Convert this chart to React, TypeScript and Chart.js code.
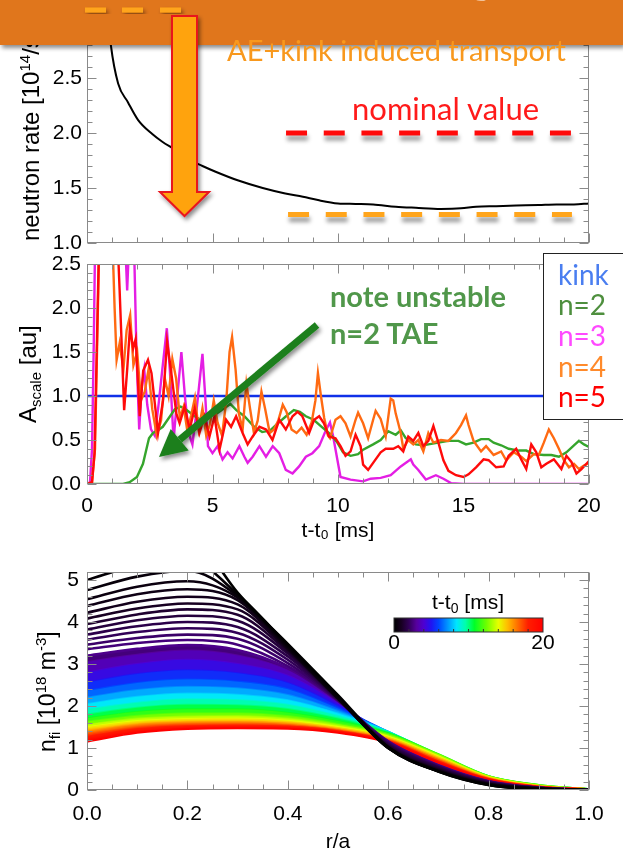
import React, { useEffect, useRef } from 'react';
import { Chart, registerables } from 'chart.js';

Chart.register(...registerables);

// ---------------- Panel 1: neutron rate ----------------
const neutronRate: [number, number][] = [
  [0.7, 3.4], [0.95, 2.8], [1.24, 2.45], [1.63, 2.28], [2.03, 2.12], [2.6, 1.99], [3.0, 1.92],
  [3.5, 1.85], [4.14, 1.75], [4.6, 1.7], [5.1, 1.65], [6.0, 1.57], [7.0, 1.5], [7.9, 1.45],
  [8.6, 1.42], [9.2, 1.39], [10.0, 1.36], [10.7, 1.355], [11.4, 1.35], [12.3, 1.33], [13.1, 1.32],
  [14.1, 1.31], [14.9, 1.315], [15.5, 1.33], [16.3, 1.335], [17.1, 1.34], [18.0, 1.345],
  [18.7, 1.35], [19.4, 1.35], [20.0, 1.36],
];
const nominalLevel = 2.0;
const nominalSpan = [7.93, 19.28];
const reducedLevel = 1.26;
const reducedSpan = [8.01, 19.32];
const neutronYTicks = [1.0, 1.5, 2.0, 2.5, 3.0];

// ---------------- Panel 2: mode amplitudes ----------------
const seriesLabels = ['kink', 'n=2', 'n=3', 'n=4', 'n=5'];
const kinkAmp: [number, number][] = [[0, 1.0], [20, 1.0]];
const n2Amp: [number, number][] = [
  [0, 0], [1.44, 0], [1.7, 0.02], [1.99, 0.08], [2.23, 0.23], [2.47, 0.52], [2.63, 0.58], [2.83, 0.61],
  [3.02, 0.65], [3.26, 0.75], [3.5, 0.85], [3.73, 0.88], [3.97, 0.84], [4.29, 0.77], [4.53, 0.73],
  [4.76, 0.77], [5.16, 0.8], [5.47, 0.86], [5.71, 0.91], [5.95, 0.84], [6.27, 0.77], [6.66, 0.65],
  [6.98, 0.59], [7.3, 0.61], [7.6, 0.69], [7.93, 0.77], [8.24, 0.84], [8.48, 0.82], [8.72, 0.77],
  [9.03, 0.73], [9.35, 0.65], [9.68, 0.57], [9.95, 0.48], [10.2, 0.36], [10.5, 0.32], [10.8, 0.34],
  [11.0, 0.39], [11.4, 0.45], [11.7, 0.5], [12.0, 0.6], [12.3, 0.56], [12.5, 0.61], [12.7, 0.52],
  [13.1, 0.45], [13.4, 0.44], [13.6, 0.45], [14.0, 0.47], [14.4, 0.49], [14.8, 0.49], [15.1, 0.45],
  [15.4, 0.47], [15.7, 0.51], [16.0, 0.51], [16.2, 0.47], [16.5, 0.44], [16.8, 0.4], [17.2, 0.38],
  [17.5, 0.38], [17.8, 0.34], [18.2, 0.33], [18.5, 0.33], [18.8, 0.31], [19.1, 0.36], [19.4, 0.44],
  [19.6, 0.49], [19.8, 0.45], [20.0, 0.42],
];
const n3Amp: [number, number][] = [
  [0, 0], [0.12, 0.02], [0.2, 0.4], [0.27, 1.6], [0.33, 2.9], [1.5, 2.9], [1.6, 2.2], [1.7, 2.9],
  [1.86, 2.9], [1.97, 1.5], [2.08, 0.62], [2.18, 1.1], [2.28, 1.3], [2.4, 0.9], [2.55, 0.62],
  [2.7, 0.55], [2.85, 0.9], [3.0, 1.3], [3.18, 1.77], [3.3, 1.3], [3.45, 0.5], [3.6, 1.0], [3.76, 1.5],
  [3.9, 1.0], [4.05, 0.58], [4.2, 0.45], [4.35, 0.8], [4.6, 1.48], [4.72, 0.95], [4.82, 0.43],
  [5.0, 0.35], [5.2, 0.43], [5.4, 0.28], [5.6, 0.36], [5.8, 0.29], [6.07, 0.43], [6.27, 0.31],
  [6.4, 0.24], [6.6, 0.31], [6.87, 0.43], [7.13, 0.31], [7.4, 0.43], [7.66, 0.35], [7.92, 0.16],
  [8.19, 0.12], [8.45, 0.2], [8.72, 0.31], [8.98, 0.35], [9.25, 0.43], [9.5, 0.6], [9.68, 0.7],
  [9.8, 0.55], [10.1, 0.08], [10.5, 0.05], [11.0, 0.03], [11.3, 0.06], [11.7, 0.07], [12.1, 0.1],
  [12.5, 0.2], [12.9, 0.28], [13.0, 0.22], [13.2, 0.16], [13.5, 0.05], [13.9, 0.1], [14.2, 0.06],
  [14.5, 0.01], [15.0, 0], [20.0, 0],
];
const n4Amp: [number, number][] = [
  [0, 0], [0.2, 0.02], [0.32, 0.4], [0.42, 1.8], [0.5, 2.9], [1.0, 2.9], [1.1, 2.0], [1.18, 1.41],
  [1.3, 1.6], [1.45, 1.3], [1.58, 1.75], [1.72, 1.92], [1.85, 1.35], [2.0, 1.5], [2.15, 0.95],
  [2.3, 1.05], [2.45, 1.3], [2.6, 0.85], [2.78, 0.55], [2.95, 0.72], [3.1, 1.2], [3.25, 1.0],
  [3.4, 1.42], [3.55, 1.2], [3.7, 0.75], [3.85, 0.88], [4.0, 0.6], [4.15, 0.78], [4.3, 0.98],
  [4.45, 0.62], [4.6, 0.86], [4.75, 0.55], [4.9, 0.68], [5.05, 0.95], [5.2, 0.7], [5.38, 0.55],
  [5.55, 0.95], [5.68, 1.5], [5.78, 1.67], [5.92, 1.3], [6.05, 0.8], [6.2, 0.62], [6.35, 1.14],
  [6.5, 0.85], [6.65, 0.58], [6.8, 0.72], [6.95, 1.05], [7.1, 0.85], [7.28, 0.58], [7.45, 0.62],
  [7.62, 0.72], [7.8, 0.9], [7.95, 0.82], [8.15, 0.62], [8.35, 0.58], [8.55, 0.64], [8.75, 0.56],
  [8.95, 0.7], [9.1, 0.95], [9.2, 1.26], [9.32, 1.0], [9.45, 0.75], [9.6, 0.55], [9.68, 0.52],
  [9.9, 0.73], [10.1, 0.77], [10.3, 0.69], [10.5, 0.54], [10.7, 0.73], [10.8, 0.81], [11.0, 0.69],
  [11.2, 0.52], [11.4, 0.73], [11.5, 0.83], [11.7, 0.74], [11.9, 0.54], [12.1, 0.97], [12.2, 0.95],
  [12.3, 0.8], [12.5, 0.58], [12.6, 0.4], [12.8, 0.5], [13.0, 0.45], [13.2, 0.5], [13.4, 0.37],
  [13.6, 0.58], [13.8, 0.47], [14.1, 0.5], [14.4, 0.49], [14.7, 0.58], [14.9, 0.67], [15.1, 0.78],
  [15.2, 0.67], [15.4, 0.49], [15.7, 0.37], [15.9, 0.43], [16.2, 0.33], [16.5, 0.37], [16.7, 0.27],
  [17.0, 0.36], [17.3, 0.31], [17.5, 0.26], [17.8, 0.34], [18.0, 0.33], [18.2, 0.47], [18.4, 0.62],
  [18.6, 0.52], [18.8, 0.4], [19.0, 0.27], [19.2, 0.19], [19.4, 0.23], [19.6, 0.17], [19.8, 0.21],
  [20.0, 0.24],
];
const n5Amp: [number, number][] = [
  [0, 0], [0.2, 0.02], [0.3, 0.35], [0.38, 1.4], [0.47, 2.6], [0.6, 2.9], [1.2, 2.9], [1.3, 2.2],
  [1.48, 0.84], [1.6, 1.3], [1.71, 1.77], [1.84, 1.54], [1.94, 1.65], [2.1, 0.77], [2.24, 1.29],
  [2.43, 1.41], [2.57, 1.26], [2.83, 0.58], [3.03, 0.95], [3.19, 1.62], [3.36, 1.26], [3.56, 0.8],
  [3.69, 0.69], [3.89, 0.88], [4.09, 0.62], [4.29, 0.86], [4.48, 0.58], [4.68, 0.77], [4.88, 0.54],
  [5.08, 0.77], [5.28, 0.39], [5.54, 0.73], [5.74, 0.65], [5.94, 0.77], [6.2, 0.58], [6.4, 0.45],
  [6.6, 0.54], [6.87, 0.65], [7.13, 0.62], [7.39, 0.5], [7.66, 0.73], [7.92, 0.62], [8.19, 0.77],
  [8.39, 0.82], [8.58, 0.77], [8.85, 0.58], [9.05, 0.73], [9.25, 0.77], [9.44, 0.69], [9.64, 0.54],
  [9.9, 0.52], [10.1, 0.43], [10.3, 0.32], [10.5, 0.37], [10.7, 0.56], [10.9, 0.43], [11.0, 0.22],
  [11.2, 0.16], [11.4, 0.24], [11.7, 0.36], [11.9, 0.4], [12.2, 0.4], [12.4, 0.43], [12.6, 0.37],
  [12.8, 0.54], [13.0, 0.49], [13.2, 0.58], [13.4, 0.43], [13.6, 0.49], [13.8, 0.66], [14.0, 0.47],
  [14.2, 0.27], [14.4, 0.15], [14.7, 0.1], [15.0, 0.08], [15.2, 0.11], [15.5, 0.19], [15.8, 0.28],
  [16.0, 0.27], [16.3, 0.19], [16.6, 0.2], [16.8, 0.32], [17.1, 0.4], [17.3, 0.28], [17.5, 0.17],
  [17.7, 0.45], [17.9, 0.36], [18.1, 0.19], [18.3, 0.23], [18.6, 0.28], [18.9, 0.17], [19.1, 0.32],
  [19.3, 0.25], [19.5, 0.12], [19.7, 0.17], [19.9, 0.23], [20.0, 0.26],
];

// ---------------- Panel 3: fast-ion density profiles ----------------
const rGrid = [0, 0.1, 0.2, 0.3, 0.4, 0.5, 0.6, 0.7, 0.8, 0.9, 1.0];
const earlyTimes = [0, 0.15, 0.3, 0.45, 0.6, 0.8, 1.0, 1.25, 1.5, 1.75, 2.0, 2.25, 2.5, 2.75];
const nfi_000 = [7.0, 6.9, 6.3, 4.7, 3.48, 2.26, 1.02, 0.44, 0.12, 0.02, 0.0];
const nfi_015 = [5.0, 5.35, 5.5, 4.66, 3.45, 2.23, 1.0, 0.44, 0.12, 0.02, 0.0];
const nfi_030 = [4.76, 5.08, 5.22, 4.62, 3.42, 2.2, 1.0, 0.45, 0.13, 0.03, 0.0];
const nfi_045 = [4.54, 4.84, 4.97, 4.58, 3.4, 2.19, 1.0, 0.45, 0.13, 0.03, 0.0];
const nfi_060 = [4.38, 4.66, 4.78, 4.52, 3.38, 2.18, 1.01, 0.46, 0.14, 0.03, 0.0];
const nfi_080 = [4.22, 4.48, 4.6, 4.42, 3.36, 2.18, 1.02, 0.47, 0.14, 0.03, 0.0];
const nfi_100 = [4.08, 4.32, 4.44, 4.3, 3.34, 2.18, 1.03, 0.48, 0.15, 0.04, 0.0];
const nfi_125 = [3.95, 4.18, 4.3, 4.17, 3.3, 2.18, 1.05, 0.5, 0.16, 0.04, 0.0];
const nfi_150 = [3.82, 4.04, 4.15, 4.03, 3.25, 2.17, 1.07, 0.52, 0.17, 0.04, 0.0];
const nfi_175 = [3.7, 3.9, 4.0, 3.88, 3.18, 2.16, 1.09, 0.54, 0.18, 0.05, 0.0];
const nfi_200 = [3.58, 3.76, 3.85, 3.74, 3.1, 2.15, 1.11, 0.55, 0.19, 0.05, 0.0];
const nfi_225 = [3.46, 3.62, 3.7, 3.6, 3.02, 2.14, 1.13, 0.57, 0.2, 0.05, 0.0];
const nfi_250 = [3.35, 3.5, 3.57, 3.46, 2.95, 2.13, 1.15, 0.58, 0.2, 0.05, 0.0];
const nfi_275 = [3.2, 3.36, 3.45, 3.33, 2.9, 2.12, 1.16, 0.59, 0.21, 0.06, 0.0];
const earlyProfiles = [nfi_000, nfi_015, nfi_030, nfi_045, nfi_060, nfi_080, nfi_100, nfi_125,
  nfi_150, nfi_175, nfi_200, nfi_225, nfi_250, nfi_275];
const lateTimes = [3, 4, 5, 6, 7, 8, 9, 10, 11, 12, 13, 14, 15, 16, 17, 18, 19, 20];
const nfi_03 = [3.05, 3.22, 3.32, 3.2, 2.85, 2.12, 1.18, 0.6, 0.21, 0.06, 0.01];
const nfi_04 = [2.8, 3.0, 3.1, 3.0, 2.72, 2.06, 1.27, 0.66, 0.24, 0.07, 0.01];
const nfi_05 = [2.56, 2.76, 2.85, 2.78, 2.55, 2.0, 1.34, 0.71, 0.26, 0.08, 0.01];
const nfi_06 = [2.36, 2.55, 2.63, 2.58, 2.4, 1.94, 1.38, 0.75, 0.28, 0.09, 0.02];
const nfi_07 = [2.2, 2.38, 2.46, 2.42, 2.26, 1.88, 1.39, 0.78, 0.3, 0.1, 0.02];
const nfi_08 = [2.05, 2.22, 2.3, 2.27, 2.14, 1.82, 1.39, 0.8, 0.31, 0.1, 0.02];
const nfi_09 = [1.92, 2.08, 2.16, 2.14, 2.03, 1.76, 1.38, 0.82, 0.32, 0.11, 0.02];
const nfi_10 = [1.8, 1.96, 2.03, 2.02, 1.93, 1.7, 1.37, 0.84, 0.33, 0.11, 0.02];
const nfi_11 = [1.71, 1.86, 1.92, 1.92, 1.84, 1.64, 1.35, 0.85, 0.33, 0.12, 0.02];
const nfi_12 = [1.63, 1.77, 1.83, 1.83, 1.76, 1.58, 1.33, 0.85, 0.33, 0.12, 0.02];
const nfi_13 = [1.56, 1.7, 1.75, 1.76, 1.7, 1.54, 1.3, 0.83, 0.32, 0.11, 0.02];
const nfi_14 = [1.5, 1.64, 1.69, 1.7, 1.65, 1.5, 1.27, 0.8, 0.31, 0.1, 0.02];
const nfi_15 = [1.44, 1.59, 1.64, 1.65, 1.61, 1.47, 1.24, 0.77, 0.3, 0.09, 0.02];
const nfi_16 = [1.39, 1.55, 1.6, 1.61, 1.57, 1.44, 1.21, 0.74, 0.28, 0.09, 0.02];
const nfi_17 = [1.33, 1.5, 1.56, 1.57, 1.54, 1.42, 1.19, 0.71, 0.27, 0.08, 0.02];
const nfi_18 = [1.27, 1.45, 1.52, 1.53, 1.51, 1.4, 1.17, 0.68, 0.26, 0.08, 0.02];
const nfi_19 = [1.21, 1.4, 1.48, 1.5, 1.48, 1.38, 1.15, 0.66, 0.25, 0.07, 0.02];
const nfi_20 = [1.15, 1.36, 1.45, 1.47, 1.46, 1.36, 1.13, 0.64, 0.24, 0.07, 0.02];
const lateProfiles = [nfi_03, nfi_04, nfi_05, nfi_06, nfi_07, nfi_08, nfi_09, nfi_10, nfi_11,
  nfi_12, nfi_13, nfi_14, nfi_15, nfi_16, nfi_17, nfi_18, nfi_19, nfi_20];
const colorbarRange = [0, 20];

// ---------------- styling ----------------
const AXF = '"Liberation Sans", Arial, Helvetica, sans-serif';
const SLF = 'Lato, "Open Sans", sans-serif';
const cmapStops: [number, number[]][] = [
  [0.0, [0, 0, 0]], [0.05, [24, 0, 34]], [0.1, [50, 0, 88]], [0.15, [86, 0, 156]],
  [0.2, [78, 0, 210]], [0.25, [32, 20, 242]], [0.3, [0, 70, 255]], [0.36, [0, 150, 255]],
  [0.42, [0, 230, 255]], [0.48, [0, 255, 170]], [0.54, [0, 255, 40]], [0.62, [110, 255, 0]],
  [0.7, [230, 255, 0]], [0.76, [255, 190, 0]], [0.83, [255, 110, 0]], [0.9, [255, 30, 0]],
  [1.0, [255, 0, 0]],
];
function cmap(p: number): string {
  const q = Math.max(0, Math.min(1, p));
  for (let i = 1; i < cmapStops.length; i++) {
    const [p0, c0] = cmapStops[i - 1];
    const [p1, c1] = cmapStops[i];
    if (q <= p1) {
      const f = (q - p0) / (p1 - p0);
      return `rgb(${c0.map((v, k) => Math.round(v + f * (c1[k] - v))).join(',')})`;
    }
  }
  return 'rgb(255,0,0)';
}

const idlAxes = {
  id: 'idlAxes',
  afterDatasetsDraw(chart: any, _args: any, o: any) {
    const { ctx, chartArea: a } = chart;
    const xs = chart.scales.x;
    const ys = chart.scales.y;
    ctx.save();
    ctx.strokeStyle = '#8a8a8a';
    ctx.lineWidth = 1;
    const L = Math.round(a.left) + 0.5, R = Math.round(a.right) - 0.5;
    const T = Math.round(a.top) + 0.5, B = Math.round(a.bottom) - 0.5;
    ctx.strokeRect(L, T, R - L, B - T);
    const marks = (scale: any, minor: number, major: number) => {
      const out: [number, boolean][] = [];
      const i0 = Math.ceil(scale.min / minor - 1e-6);
      const i1 = Math.floor(scale.max / minor + 1e-6);
      for (let i = i0; i <= i1; i++) {
        const v = i * minor;
        const q = v / major;
        out.push([scale.getPixelForValue(v), Math.abs(q - Math.round(q)) < 1e-6]);
      }
      return out;
    };
    ctx.beginPath();
    for (const [px, maj] of marks(xs, o.xMinor, o.xMajor)) {
      const x = Math.round(px) + 0.5, len = maj ? 9 : 5;
      ctx.moveTo(x, B); ctx.lineTo(x, B - len);
      ctx.moveTo(x, T); ctx.lineTo(x, T + len);
    }
    for (const [py, maj] of marks(ys, o.yMinor, o.yMajor)) {
      const y = Math.round(py) + 0.5, len = maj ? 9 : 5;
      ctx.moveTo(L, y); ctx.lineTo(L + len, y);
      ctx.moveTo(R, y); ctx.lineTo(R - len, y);
    }
    ctx.stroke();
    ctx.restore();
  },
};

const dsShadow = {
  id: 'dsShadow',
  beforeDatasetDraw(chart: any, args: any) {
    if (chart.data.datasets[args.index].shadow) {
      const c = chart.ctx;
      c.save();
      c.shadowColor = 'rgba(0,0,0,0.4)';
      c.shadowBlur = 4;
      c.shadowOffsetX = 1;
      c.shadowOffsetY = 5;
    }
  },
  afterDatasetDraw(chart: any, args: any) {
    if (chart.data.datasets[args.index].shadow) chart.ctx.restore();
  },
};

const pts = (arr: [number, number][]) => arr.map(([x, y]) => ({ x, y }));
const noGrid = { display: false, drawTicks: false };
const tickFont = { family: AXF, size: 21 };
const zeroPad = (s: any) => { s.paddingTop = 0; s.paddingBottom = 0; s.paddingLeft = 0; s.paddingRight = 0; };
const fixH = (h: number) => (s: any) => { s.height = h; zeroPad(s); };
const fixW = (w: number) => (s: any) => { s.width = w; zeroPad(s); };

export default function App() {
  const c1 = useRef<HTMLCanvasElement>(null);
  const c2 = useRef<HTMLCanvasElement>(null);
  const c3 = useRef<HTMLCanvasElement>(null);

  useEffect(() => {
    const base = { animation: false, responsive: false, maintainAspectRatio: false, events: [] as any[] };

    const ch1 = new Chart(c1.current!, {
      type: 'line',
      data: {
        datasets: [
          { data: pts(neutronRate), borderColor: '#000', borderWidth: 2, pointRadius: 0, cubicInterpolationMode: 'monotone' },
          { data: [{ x: nominalSpan[0], y: nominalLevel }, { x: nominalSpan[1], y: nominalLevel }], borderColor: '#ff0a0a', borderWidth: 5, borderDash: [21, 16.7], pointRadius: 0, shadow: true },
          { data: [{ x: reducedSpan[0], y: reducedLevel }, { x: reducedSpan[1], y: reducedLevel }], borderColor: '#ffa51c', borderWidth: 5, borderDash: [21, 16.7], pointRadius: 0, shadow: true },
        ] as any,
      },
      options: {
        ...base,
        layout: { padding: { left: 0, right: 34, top: 23, bottom: 7 } },
        plugins: { legend: { display: false }, tooltip: { enabled: false }, idlAxes: { xMajor: 5, xMinor: 1, yMajor: 0.5, yMinor: 0.1 } } as any,
        scales: {
          x: { type: 'linear', min: 0, max: 20, ticks: { display: false }, grid: noGrid, border: { display: false }, afterFit: fixH(0) },
          y: {
            type: 'linear', min: neutronYTicks[0], max: neutronYTicks[neutronYTicks.length - 1],
            afterBuildTicks: (s: any) => { s.ticks = neutronYTicks.map((v) => ({ value: v })); },
            ticks: { callback: (v: any) => Number(v).toFixed(1), font: tickFont, color: '#000', padding: 5 },
            grid: noGrid, border: { display: false }, afterFit: fixW(87),
          },
        } as any,
      },
      plugins: [idlAxes, dsShadow],
    });

    const mid = [
      { pts: kinkAmp, color: '#1030e8', order: 5 },
      { pts: n2Amp, color: '#35a52c', order: 3 },
      { pts: n3Amp, color: '#e41ee4', order: 4 },
      { pts: n4Amp, color: '#ff6a12', order: 2 },
      { pts: n5Amp, color: '#ff0a0a', order: 1 },
    ];
    const ch2 = new Chart(c2.current!, {
      type: 'line',
      data: {
        datasets: mid.map((m, i) => ({
          label: seriesLabels[i], data: pts(m.pts), borderColor: m.color, borderWidth: 2.4,
          pointRadius: 0, tension: 0, order: m.order,
        })),
      },
      options: {
        ...base,
        layout: { padding: { left: 0, right: 34, top: 14, bottom: 0 } },
        plugins: { legend: { display: false }, tooltip: { enabled: false }, idlAxes: { xMajor: 5, xMinor: 1, yMajor: 0.5, yMinor: 0.1 } } as any,
        scales: {
          x: {
            type: 'linear', min: 0, max: 20,
            ticks: { stepSize: 5, autoSkip: false, includeBounds: false, font: tickFont, color: '#000', padding: 10, maxRotation: 0 },
            title: { display: true, text: 't-t₀ [ms]', font: { family: AXF, size: 21 }, color: '#000', padding: { top: 0, bottom: 6 } },
            grid: noGrid, border: { display: false }, afterFit: fixH(66),
          },
          y: {
            type: 'linear', min: 0, max: 2.5,
            ticks: { stepSize: 0.5, includeBounds: false, callback: (v: any) => Number(v).toFixed(1), font: tickFont, color: '#000', padding: 6 },
            grid: noGrid, border: { display: false }, afterFit: fixW(87),
          },
        } as any,
      },
      plugins: [idlAxes],
    });

    const ds3: any[] = [];
    earlyProfiles.forEach((prof, i) => {
      ds3.push({
        data: rGrid.map((r, j) => ({ x: r, y: prof[j] })),
        borderColor: cmap(earlyTimes[i] / colorbarRange[1]), borderWidth: 2.6, pointRadius: 0,
        cubicInterpolationMode: 'monotone', fill: false, order: 0,
      });
    });
    lateProfiles.forEach((prof, i) => {
      ds3.push({
        data: rGrid.map((r, j) => ({ x: r, y: prof[j] })),
        borderColor: cmap(lateTimes[i] / colorbarRange[1]),
        backgroundColor: cmap((lateTimes[i] - 0.5) / colorbarRange[1]),
        borderWidth: 2, pointRadius: 0, cubicInterpolationMode: 'monotone',
        fill: '-1', order: 100 - i,
      });
    });
    const ch3 = new Chart(c3.current!, {
      type: 'line',
      data: { datasets: ds3 },
      options: {
        ...base,
        layout: { padding: { left: 0, right: 34, top: 20, bottom: 0 } },
        plugins: { legend: { display: false }, tooltip: { enabled: false }, filler: { propagate: false }, idlAxes: { xMajor: 0.2, xMinor: 0.05, yMajor: 1, yMinor: 0.2 } } as any,
        scales: {
          x: {
            type: 'linear', min: 0, max: 1,
            ticks: { stepSize: 0.2, autoSkip: false, includeBounds: false, callback: (v: any) => Number(v).toFixed(1), font: tickFont, color: '#000', padding: 12, maxRotation: 0 },
            title: { display: true, text: 'r/a', font: { family: AXF, size: 21 }, color: '#000', padding: { top: 0, bottom: 2 } },
            grid: noGrid, border: { display: false }, afterFit: fixH(67),
          },
          y: {
            type: 'linear', min: 0, max: 5.19,
            ticks: { stepSize: 1, includeBounds: false, callback: (v: any) => (Number.isInteger(v) ? String(v) : ''), font: tickFont, color: '#000', padding: 8 },
            grid: noGrid, border: { display: false }, afterFit: fixW(87),
          },
        } as any,
      },
      plugins: [idlAxes],
    });

    return () => { ch1.destroy(); ch2.destroy(); ch3.destroy(); };
  }, []);

  // green arrow geometry (annotation)
  const gTail = [317, 325], gTip = [159, 457];
  const gdx = gTip[0] - gTail[0], gdy = gTip[1] - gTail[1];
  const gl = Math.hypot(gdx, gdy);
  const ux = gdx / gl, uy = gdy / gl;
  const hb = [gTip[0] - 27 * ux, gTip[1] - 27 * uy];
  const head = `${gTip[0]},${gTip[1]} ${hb[0] + 14 * -uy},${hb[1] + 14 * ux} ${hb[0] - 14 * -uy},${hb[1] - 14 * ux}`;

  const legendColors = ['#4a7ef0', '#4e8f3e', '#ff4aff', '#ff8a2b', '#ff0000'];
  const legendBase = [285, 315, 346, 377, 407];

  return (
    <div style={{ position: 'fixed', left: 0, top: 0, width: 623, height: 849, background: '#fff', overflow: 'hidden' }}>
      <canvas ref={c1} width={623} height={250} style={{ position: 'absolute', left: 0, top: 0, width: 623, height: 250 }} />
      <canvas ref={c2} width={623} height={300} style={{ position: 'absolute', left: 0, top: 250, width: 623, height: 300 }} />
      <canvas ref={c3} width={623} height={305} style={{ position: 'absolute', left: 0, top: 552, width: 623, height: 305 }} />
      <svg width={623} height={849} style={{ position: 'absolute', left: 0, top: 0 }}>
        <defs>
          <filter id="sh" x="-30%" y="-30%" width="160%" height="160%">
            <feDropShadow dx="2" dy="3" stdDeviation="2" floodColor="#000" floodOpacity="0.45" />
          </filter>
          <linearGradient id="cb" x1="0" y1="0" x2="1" y2="0">
            {cmapStops.map(([p, c], i) => (
              <stop key={i} offset={p} stopColor={`rgb(${c.join(',')})`} />
            ))}
          </linearGradient>
        </defs>
        {/* axis titles (drawn below the slide header) */}
        <text transform="translate(39,241) rotate(-90)" fontFamily={AXF} fontSize={24} fill="#000">
          neutron rate [10<tspan dy={-9} fontSize={15}>14</tspan><tspan dy={9}>/s]</tspan>
        </text>
        <text transform="translate(36,423) rotate(-90)" fontFamily={AXF} fontSize={24} fill="#000">
          A<tspan dy={5} fontSize={15}>scale</tspan><tspan dy={-5}> [au]</tspan>
        </text>
        <text transform="translate(55,752) rotate(-90)" fontFamily={AXF} fontSize={23} fill="#000">
          n<tspan dy={5} fontSize={15}>fi</tspan><tspan dy={-5}> [10</tspan><tspan dy={-9} fontSize={15}>18</tspan><tspan dy={9}> m</tspan><tspan dy={-9} fontSize={15}>-3</tspan><tspan dy={9}>]</tspan>
        </text>
        {/* slide header */}
        <rect x={0} y={0} width={623} height={45} fill="#E0761F" filter="url(#sh)" />
        <text x={466} y={-10} fontFamily={SLF} fontWeight="bold" fontSize={58} fill="#fff">g</text>
        {[85, 122, 160].map((x) => (
          <rect key={x} x={x} y={7.5} width={21} height={5} fill="#FFA51C" filter="url(#sh)" />
        ))}
        {/* annotations */}
        <text x={227} y={61} fontFamily={SLF} fontSize={29} fill="#F8981D">AE+kink induced transport</text>
        <text x={352} y={120} fontFamily={SLF} fontSize={31} fill="#FF1A1A">nominal value</text>
        <text x={330} y={307} fontFamily={SLF} fontWeight="bold" fontSize={29} fill="#50974A">note unstable</text>
        <text x={330} y={344} fontFamily={SLF} fontWeight="bold" fontSize={29} fill="#50974A">n=2 TAE</text>
        <g filter="url(#sh)">
          <line x1={gTail[0]} y1={gTail[1]} x2={hb[0]} y2={hb[1]} stroke="#1b7f1b" strokeWidth={7} />
          <polygon points={head} fill="#1b7f1b" />
        </g>
        {/* big arrow */}
        <polygon points="172,16 197,16 197,192 209,192 184.5,216 160,192 172,192" fill="#FFA30F" stroke="#E8141C" strokeWidth={2} filter="url(#sh)" />
        {/* legend */}
        <rect x={543.5} y={253.5} width={100} height={166} fill="#fff" stroke="#222" strokeWidth={1} />
        {seriesLabels.map((s, i) => (
          <text key={s} x={558} y={legendBase[i]} fontFamily={SLF} fontSize={28} fill={legendColors[i]}>{s}</text>
        ))}
        {/* colorbar */}
        <text x={468} y={609} textAnchor="middle" fontFamily={AXF} fontSize={21} fill="#000">
          t-t<tspan dy={4} fontSize={14}>0</tspan><tspan dy={-4}> [ms]</tspan>
        </text>
        <rect x={394} y={618} width={149} height={14} fill="url(#cb)" stroke="#333" strokeWidth={1} />
        {Array.from({ length: 9 }, (_, i) => 394 + (149 * (i + 1)) / 10).map((x) => (
          <line key={x} x1={x} y1={632} x2={x} y2={629} stroke="#333" strokeWidth={1} />
        ))}
        <text x={394} y={649} textAnchor="middle" fontFamily={AXF} fontSize={21} fill="#000">{colorbarRange[0]}</text>
        <text x={543} y={649} textAnchor="middle" fontFamily={AXF} fontSize={21} fill="#000">{colorbarRange[1]}</text>
      </svg>
    </div>
  );
}
